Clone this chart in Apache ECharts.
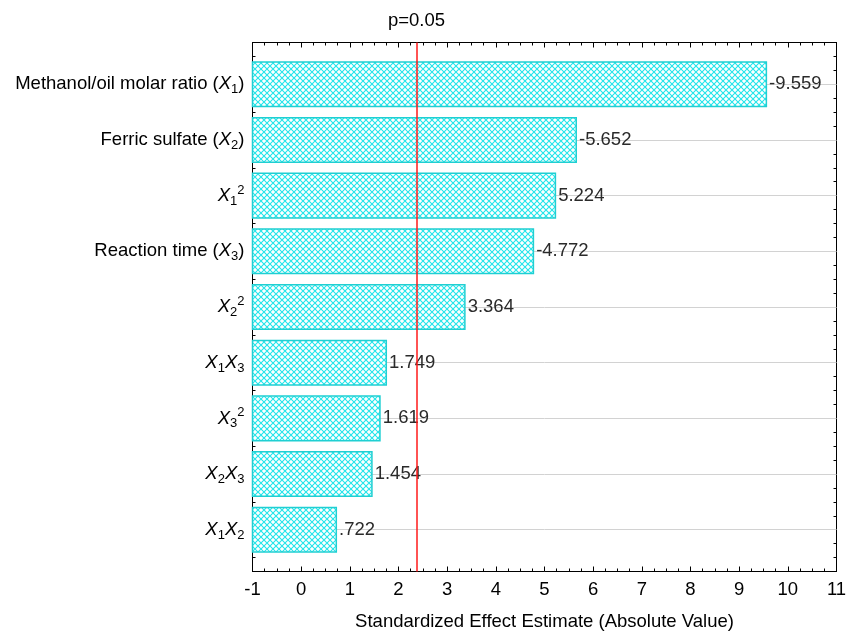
<!DOCTYPE html>
<html><head><meta charset="utf-8">
<script src="https://cdn.jsdelivr.net/npm/echarts@6/dist/echarts.min.js"></script>
<style>html,body{margin:0;padding:0;background:#fff}#c{width:848px;height:632px}</style>
</head><body><div id="c"></div>
<script>
// ---- data ----
const categories = [
  'Methanol/oil molar ratio ({i|X}{sub|1})',
  'Ferric sulfate ({i|X}{sub|2})',
  '{i|X}{sub|1}{sup|2}',
  'Reaction time ({i|X}{sub|3})',
  '{i|X}{sub|2}{sup|2}',
  '{i|X}{sub|1}{i|X}{sub|3}',
  '{i|X}{sub|3}{sup|2}',
  '{i|X}{sub|2}{i|X}{sub|3}',
  '{i|X}{sub|1}{i|X}{sub|2}'
];
const effects = [-9.559, -5.652, 5.224, -4.772, 3.364, 1.749, 1.619, 1.454, 0.722];
const xMin = -1, xMax = 11, xStep = 1;
const pCritical = 2.365;
const pLabel = 'p=0.05';
const xName = 'Standardized Effect Estimate (Absolute Value)';

// ---- helpers ----
const positions = categories.map((c, i) => i + 1);
const fmt = v => v.toFixed(3).replace(/^(-?)0\./, '$1.');
const pc = document.createElement('canvas'); pc.width = 6; pc.height = 6;
const g = pc.getContext('2d');
g.strokeStyle = '#22e4ea'; g.lineWidth = 1.1;
g.beginPath(); g.moveTo(-1, -1); g.lineTo(7, 7); g.moveTo(7, -1); g.lineTo(-1, 7); g.stroke();
const pattern = { image: pc, repeat: 'repeat' };

const FONT = 'Liberation Sans, Arial, sans-serif';
const FS = 18.5;
const yMin = 0.25, yMax = 9.75;
const chart = echarts.init(document.getElementById('c'), null, { renderer: 'canvas' });

const tickStyle = { color: '#000', width: 1 };
function yAxisDef(pos, major) {
  const a = {
    type: 'value', position: pos, inverse: true, min: yMin, max: yMax,
    axisLine: { show: true, onZero: false, lineStyle: { color: '#000', width: 1 } },
    splitLine: { show: false },
    axisTick: { show: true, inside: true, length: major ? 5 : 3, lineStyle: tickStyle },
    axisLabel: { show: false }
  };
  if (major) {
    a.axisTick.customValues = positions;
    if (pos === 'left') {
      a.axisLabel = {
        show: true, customValues: positions, margin: 8,
        formatter: v => categories[Math.round(v) - 1] || '',
        color: '#000', fontSize: FS, fontFamily: FONT, lineHeight: 24,
        rich: {
          i: { fontStyle: 'italic', fontSize: FS, fontFamily: FONT, color: '#000', lineHeight: 24 },
          sub: { fontSize: 13, fontFamily: FONT, color: '#000', lineHeight: 12, verticalAlign: 'bottom' },
          sup: { fontSize: 13, fontFamily: FONT, color: '#000', lineHeight: 13, verticalAlign: 'top' }
        }
      };
    }
  } else {
    a.interval = 0.25;
  }
  return a;
}
function xAxisDef(pos) {
  const a = {
    type: 'value', position: pos, min: xMin, max: xMax, interval: xStep,
    axisLine: { show: true, onZero: false, lineStyle: { color: '#000', width: 1 } },
    splitLine: { show: false },
    axisTick: { show: true, inside: true, length: 5, lineStyle: tickStyle },
    minorTick: { show: true, splitNumber: 4, length: 3, lineStyle: tickStyle },
    axisLabel: { show: false }
  };
  if (pos === 'bottom') {
    a.axisLabel = { show: true, color: '#000', fontSize: FS, fontFamily: FONT, margin: 9 };
    a.name = xName; a.nameLocation = 'middle'; a.nameGap = 41;
    a.nameTextStyle = { color: '#000', fontSize: FS, fontFamily: FONT };
  }
  return a;
}

chart.setOption({
  animation: false,
  backgroundColor: '#fff',
  grid: { left: 252.5, right: 11.5, top: 42.5, bottom: 60.5, containLabel: false, outerBoundsMode: 'none' },
  xAxis: [xAxisDef('bottom'), xAxisDef('top')],
  yAxis: [yAxisDef('left', true), yAxisDef('left', false), yAxisDef('right', true), yAxisDef('right', false)],
  series: [
    {
      type: 'line', data: [], xAxisIndex: 0, yAxisIndex: 0, z: 1, silent: true,
      markLine: {
        silent: true, symbol: 'none', animation: false, z: 1,
        label: { show: false },
        lineStyle: { color: '#d2d2d2', width: 1, type: 'solid' },
        data: positions.map(p => ({ yAxis: p }))
      }
    },
    {
      type: 'custom', xAxisIndex: 0, yAxisIndex: 0, z: 3,
      data: effects.map((e, i) => [Math.abs(e), positions[i], i]),
      renderItem: function (params, api) {
        const v = api.value(0), y = api.value(1), idx = api.value(2);
        const s = api.coord([xMin, y]), e = api.coord([v, y]);
        const h = api.size([0, 0.8])[1];
        const shape = { x: s[0], y: s[1] - h / 2, width: e[0] - s[0], height: h };
        return {
          type: 'group',
          children: [
            { type: 'rect', shape: shape, style: { fill: '#fff' } },
            {
              type: 'rect', shape: shape,
              style: { fill: pattern, stroke: '#20cfd2', lineWidth: 1.5 },
              textContent: {
                style: { text: fmt(effects[idx]), fill: '#2a2a2a', fontSize: FS, fontFamily: FONT }
              },
              textConfig: { position: 'right', distance: 2 }
            }
          ]
        };
      }
    },
    {
      type: 'line', data: [], xAxisIndex: 0, yAxisIndex: 0, z: 10, silent: true,
      markLine: {
        silent: true, symbol: 'none', animation: false, z: 10,
        lineStyle: { color: '#ff1a1a', width: 1.5, type: 'solid' },
        label: { show: true, position: 'start', formatter: pLabel, color: '#000', fontSize: FS, fontFamily: FONT, distance: 12 },
        data: [{ xAxis: pCritical }]
      }
    }
  ]
});
</script>
</body></html>
